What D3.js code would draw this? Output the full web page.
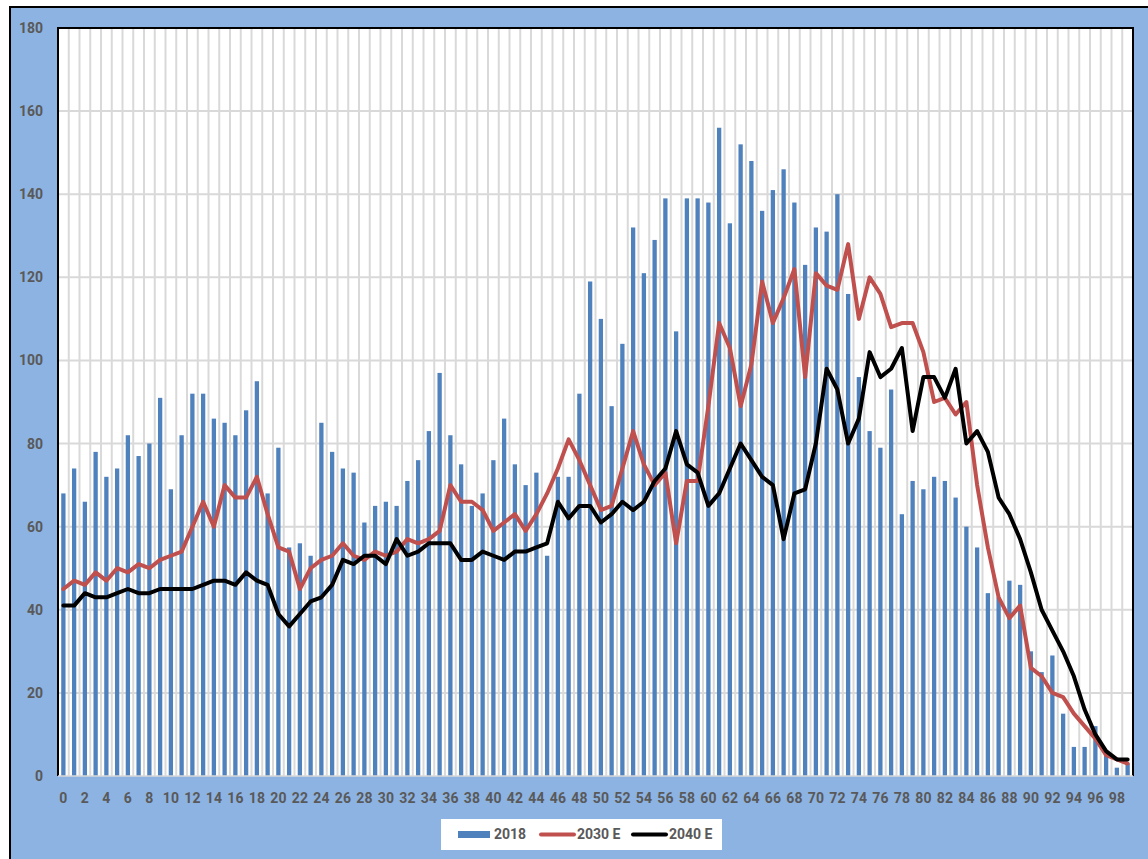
<!DOCTYPE html>
<html>
<head>
<meta charset="utf-8">
<script src="https://d3js.org/d3.v7.min.js"></script>
<style>
  body { margin: 0; background: #fff; }
  text { font-family: Roboto, "Open Sans", sans-serif; font-weight: bold; fill: #595959; }
</style>
</head>
<body>
<svg id="chart" width="1148" height="859"></svg>
<script>
// ages 0..99
var ages = d3.range(0, 100);

var pop2018 = [68,74,66,78,72,74,82,77,80,91, 69,82,92,92,86,85,82,88,95,68,
               79,55,56,53,85,78,74,73,61,65, 66,65,71,76,83,97,82,75,65,68,
               76,86,75,70,73,53,72,72,92,119, 110,89,104,132,121,129,139,107,139,139,
               138,156,133,152,148,136,141,146,138,123, 132,131,140,116,96,83,79,93,63,71,
               69,72,71,67,60,55,44,43,47,46, 30,25,29,15,7,7,12,5,2,3];

var pop2030 = [45,47,46,49,47,50,49,51,50,52, 53,54,60,66,60,70,67,67,72,63,
               55,54,45,50,52,53,56,53,52,54, 53,54,57,56,57,59,70,66,66,64,
               59,61,63,59,63,68,74,81,76,70, 64,65,74,83,75,70,73,56,71,71,
               89,109,103,89,99,119,109,115,122,96, 121,118,117,128,110,120,116,108,109,109,
               102,90,91,87,90,70,55,43,38,41, 26,24,20,19,15,12,9,5,4,3];

var pop2040 = [41,41,44,43,43,44,45,44,44,45, 45,45,45,46,47,47,46,49,47,46,
               39,36,39,42,43,46,52,51,53,53, 51,57,53,54,56,56,56,52,52,54,
               53,52,54,54,55,56,66,62,65,65, 61,63,66,64,66,71,74,83,75,73,
               65,68,74,80,76,72,70,57,68,69, 80,98,93,80,86,102,96,98,103,83,
               96,96,91,98,80,83,78,67,63,57, 49,40,35,30,24,16,10,6,4,4];

var yTicks = d3.range(0, 181, 20);
var xTicks = ages.filter(function(a) { return a % 2 === 0; });

var legendItems = [
  {name: '2018', kind: 'bar', color: '#4F81BD'},
  {name: '2030 E', kind: 'line', color: '#C0504D'},
  {name: '2040 E', kind: 'line', color: '#000000'}
];

var svg = d3.select('#chart');

// outer chart area
svg.append('rect')
  .attr('x', 10).attr('y', 7)
  .attr('width', 1150).attr('height', 870)
  .attr('fill', '#8DB3E2')
  .attr('stroke', '#000').attr('stroke-width', 2);

var pLeft = 58, pRight = 1133, pTop = 28, pBottom = 776;

var xs = d3.scaleBand().domain(ages).range([pLeft, pRight]).padding(0);
var ys = d3.scaleLinear().domain([0, 180]).range([pBottom, pTop]);

// plot area
svg.append('rect')
  .attr('x', pLeft).attr('y', pTop)
  .attr('width', pRight - pLeft).attr('height', pBottom - pTop)
  .attr('fill', '#fff');

// vertical grid at category boundaries
svg.append('g').selectAll('line')
  .data(ages.slice(1))
  .enter().append('line')
    .attr('x1', function(d) { return xs(d); })
    .attr('x2', function(d) { return xs(d); })
    .attr('y1', pTop).attr('y2', pBottom)
    .attr('stroke', '#D9D9D9').attr('stroke-width', 2);

// horizontal grid
svg.append('g').selectAll('line')
  .data(yTicks.slice(1))
  .enter().append('line')
    .attr('x1', pLeft).attr('x2', pRight)
    .attr('y1', function(d) { return ys(d); })
    .attr('y2', function(d) { return ys(d); })
    .attr('stroke', '#D9D9D9').attr('stroke-width', 2);

// bars
var bw = xs.bandwidth() * 0.4;
svg.append('g').selectAll('rect')
  .data(ages)
  .enter().append('rect')
    .attr('x', function(d) { return xs(d) + (xs.bandwidth() - bw) / 2; })
    .attr('y', function(d) { return ys(pop2018[d]); })
    .attr('width', bw)
    .attr('height', function(d) { return ys(0) - ys(pop2018[d]); })
    .attr('fill', '#4F81BD');

// lines
function drawLine(values, color) {
  var line = d3.line()
    .x(function(d) { return xs(d) + xs.bandwidth() / 2; })
    .y(function(d) { return ys(values[d]); });
  svg.append('path')
    .datum(ages)
    .attr('d', line)
    .attr('fill', 'none')
    .attr('stroke', color)
    .attr('stroke-width', 4)
    .attr('stroke-linejoin', 'round')
    .attr('stroke-linecap', 'round');
}
drawLine(pop2030, '#C0504D');
drawLine(pop2040, '#000000');

// plot borders
svg.append('line').attr('x1', pLeft).attr('x2', pLeft).attr('y1', pTop - 1).attr('y2', pBottom)
  .attr('stroke', '#000').attr('stroke-width', 2);
svg.append('line').attr('x1', pRight).attr('x2', pRight).attr('y1', pTop - 1).attr('y2', pBottom)
  .attr('stroke', '#000').attr('stroke-width', 2);
svg.append('line').attr('x1', pLeft).attr('x2', pRight).attr('y1', pTop).attr('y2', pTop)
  .attr('stroke', '#000').attr('stroke-width', 2);
svg.append('line').attr('x1', pLeft).attr('x2', pRight).attr('y1', pBottom).attr('y2', pBottom)
  .attr('stroke', '#D9D9D9').attr('stroke-width', 1.5);

// Y axis
var yAxis = svg.append('g')
  .attr('transform', 'translate(' + pLeft + ',0)')
  .call(d3.axisLeft(ys).tickValues(yTicks).tickSize(0).tickPadding(15));
yAxis.select('.domain').remove();
yAxis.selectAll('text').style('font-size', '14px');

// X axis
var xAxis = svg.append('g')
  .attr('transform', 'translate(0,' + pBottom + ')')
  .call(d3.axisBottom(xs).tickValues(xTicks).tickSize(0).tickPadding(17));
xAxis.select('.domain').remove();
xAxis.selectAll('text').style('font-size', '14px');

// legend
var lg = svg.append('g');
lg.append('rect')
  .attr('x', 441).attr('y', 819).attr('width', 281).attr('height', 31)
  .attr('fill', '#fff');
var legendX = [458, 540, 632];
legendItems.forEach(function(item, i) {
  var x0 = legendX[i];
  if (item.kind === 'bar') {
    lg.append('rect').attr('x', x0).attr('y', 831).attr('width', 32).attr('height', 7)
      .attr('fill', item.color);
  } else {
    lg.append('line').attr('x1', x0 + 1).attr('x2', x0 + 34).attr('y1', 834.5).attr('y2', 834.5)
      .attr('stroke', item.color).attr('stroke-width', 4).attr('stroke-linecap', 'round');
  }
  lg.append('text')
    .attr('x', x0 + (item.kind === 'bar' ? 36 : 37))
    .attr('y', 834.5)
    .attr('dy', '0.35em')
    .style('font-size', '14px')
    .text(item.name);
});
</script>
</body>
</html>
